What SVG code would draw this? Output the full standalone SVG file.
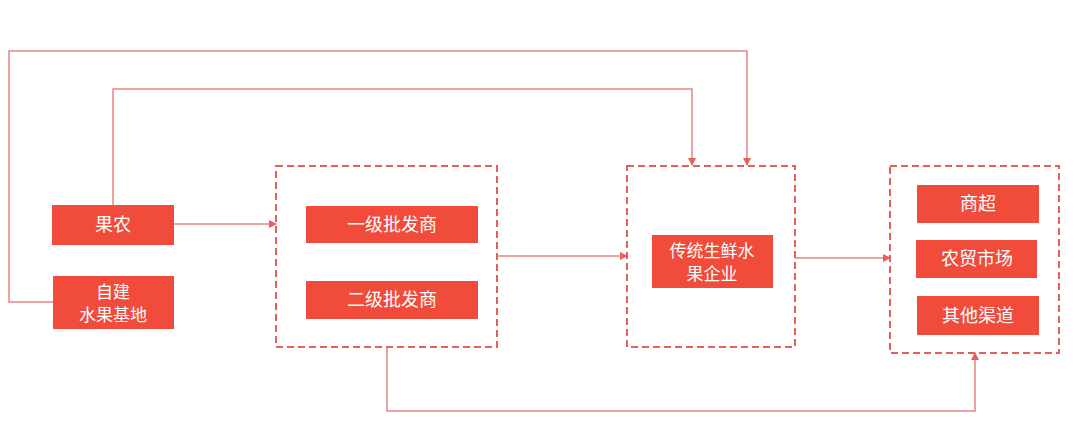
<svg xmlns="http://www.w3.org/2000/svg" width="1080" height="423" viewBox="0 0 1080 423">
<style>
.n{fill:#f04b3b}
.t{fill:#fff;font-family:"Noto Sans CJK SC",sans-serif;font-size:18px;text-anchor:middle}
.s{font-size:17px}
.d{fill:none;stroke:#e0605a;stroke-width:2;stroke-dasharray:7 4}
.c{fill:none;stroke:#e88480;stroke-width:1.5}
</style>
<defs><marker id="a" markerWidth="8" markerHeight="8" refX="7" refY="4" orient="auto" markerUnits="userSpaceOnUse"><path d="M0,0L8,4L0,8z" fill="#e8605a"/></marker></defs>
<rect width="1080" height="423" fill="#fff"/>
<g id="connectors">
<path class="c" d="M53,302H9V51H747V165" marker-end="url(#a)"/>
<path class="c" d="M113,205V89H692V165" marker-end="url(#a)"/>
<path class="c" d="M174,224H276" marker-end="url(#a)"/>
<path class="c" d="M497,256H627" marker-end="url(#a)"/>
<path class="c" d="M795,258H890" marker-end="url(#a)"/>
<path class="c" d="M387,347V411H975V353" marker-end="url(#a)"/>
</g>
<g id="guonong"><rect class="n" x="52" y="205" width="122" height="40"/><text class="t" x="113" y="231">果农</text></g>
<g id="jidi"><rect class="n" x="53" y="276" width="121" height="53"/><text class="t s" x="113" y="298">自建</text><text class="t s" x="113" y="321">水果基地</text></g>
<g id="wholesale"><rect class="d" x="276" y="166" width="221" height="181"/>
<rect class="n" x="306" y="206" width="172" height="37"/><text class="t" x="392" y="231">一级批发商</text>
<rect class="n" x="306" y="281" width="172" height="38"/><text class="t" x="392" y="306">二级批发商</text></g>
<g id="enterprise"><rect class="d" x="627" y="166" width="168" height="181"/>
<rect class="n" x="652" y="235" width="121" height="53"/><text class="t s" x="712" y="257">传统生鲜水</text><text class="t s" x="712" y="280">果企业</text></g>
<g id="channels"><rect class="d" x="890" y="166" width="169" height="187"/>
<rect class="n" x="917" y="185" width="122" height="38"/><text class="t" x="978" y="210">商超</text>
<rect class="n" x="916" y="240" width="121" height="38"/><text class="t" x="977" y="265">农贸市场</text>
<rect class="n" x="917" y="296" width="122" height="39"/><text class="t" x="978" y="322">其他渠道</text></g>
</svg>
